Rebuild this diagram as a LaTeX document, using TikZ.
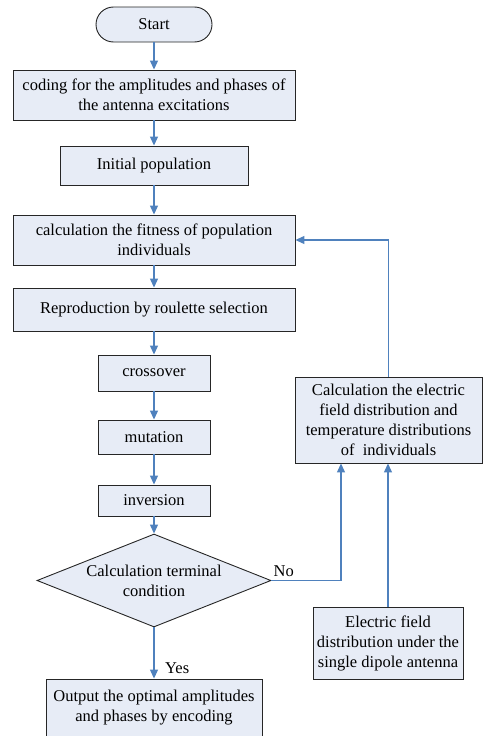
\documentclass[tikz,border=0pt]{standalone}
\usepackage{fontspec}
\setmainfont{Liberation Serif}
\usetikzlibrary{shapes.geometric,arrows.meta}
\definecolor{boxfill}{RGB}{231,236,246}
\definecolor{linecol}{RGB}{79,129,189}
\tikzset{
  box/.style={draw=black!85, line width=0.9pt, fill=boxfill, align=center, inner sep=0pt, font=\fontsize{16.5}{20}\selectfont},
  term/.style={box, rounded corners=17.5pt},
  decide/.style={box, diamond, aspect=2.5},
  conn/.style={draw=linecol, line width=1.2pt, -{Triangle[length=9pt,width=8pt]}},
  lbl/.style={inner sep=0pt, font=\fontsize{16.5}{20}\selectfont}
}
\begin{document}
\begin{tikzpicture}[x=1pt,y=-1pt]
\useasboundingbox (0,0) rectangle (483,736);
\node[term, minimum width=116pt, minimum height=35pt] (start) at (154,24.5) {Start};
\node[box, minimum width=282pt, minimum height=50pt] (coding) at (154,95) {coding for the amplitudes and phases of\\the antenna excitations};
\node[box, minimum width=188pt, minimum height=39pt] (init) at (154,165.5) {Initial population};
\node[box, minimum width=282pt, minimum height=50pt] (fit) at (154,240) {calculation the fitness of population\\individuals};
\node[box, minimum width=282pt, minimum height=43pt] (repro) at (154,309.5) {Reproduction by roulette selection};
\node[box, minimum width=112pt, minimum height=36pt] (cross) at (154,373) {crossover};
\node[box, minimum width=112pt, minimum height=34pt] (mut) at (154,437) {mutation};
\node[box, minimum width=112pt, minimum height=31pt] (inv) at (154,500.5) {inversion};
\node[decide, minimum width=234pt, minimum height=93pt] (dia) at (154,580.5) {Calculation terminal\\condition};
\node[box, minimum width=216pt, minimum height=58pt] (out) at (154,708) {Output the optimal amplitudes\\and phases by encoding};
\node[box, minimum width=187pt, minimum height=86pt] (calc) at (388.5,420) {Calculation the electric\\field distribution and\\temperature distributions\\of~ individuals};
\node[box, minimum width=150pt, minimum height=72pt] (dip) at (388,643) {Electric field\\distribution under the\\single dipole antenna};
\coordinate (noend) at ([xshift=-47.5pt]calc.south);
\path[conn] (start) -- (coding);
\path[conn] (coding) -- (init);
\path[conn] (init) -- (fit);
\path[conn] (fit) -- (repro);
\path[conn] (repro) -- (cross);
\path[conn] (cross) -- (mut);
\path[conn] (mut) -- (inv);
\path[conn] (inv) -- (dia);
\path[conn] (dia) -- (out);
\path[conn] (dia.east) -| (noend);
\path[conn] (dip.north) -- (dip.north |- calc.south);
\path[conn] (calc.north) |- (fit.east);
\node[lbl, anchor=south west] (no) at ([xshift=2pt,yshift=4pt]dia.east) {No};
\node[lbl, anchor=west] (yes) at (165,668) {Yes};
\end{tikzpicture}
\end{document}
